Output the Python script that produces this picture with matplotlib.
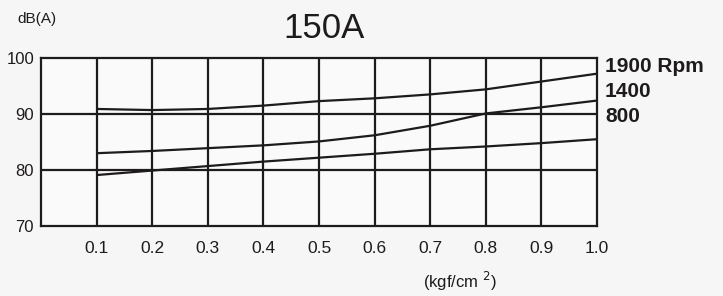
import matplotlib
matplotlib.use("Agg")
import matplotlib.pyplot as plt

pressure = [0.1, 0.2, 0.3, 0.4, 0.5, 0.6, 0.7, 0.8, 0.9, 1.0]
db_1900 = [90.9, 90.7, 90.9, 91.5, 92.3, 92.8, 93.5, 94.4, 95.8, 97.2]
db_1400 = [83.0, 83.4, 83.9, 84.4, 85.1, 86.2, 87.9, 90.1, 91.2, 92.4]
db_800 = [79.1, 79.9, 80.7, 81.5, 82.2, 82.9, 83.7, 84.2, 84.8, 85.5]
series_labels = ["1900 Rpm", "1400", "800"]
x_ticks = [0.1, 0.2, 0.3, 0.4, 0.5, 0.6, 0.7, 0.8, 0.9, 1.0]
y_ticks = [70, 80, 90, 100]
title = "150A"
y_unit = "dB(A)"
x_unit = "(kgf/cm $^{2}$)"

W, H = 723, 296
fig = plt.figure(figsize=(W / 100, H / 100), dpi=100)
fig.patch.set_facecolor("#f6f6f6")
ax = fig.add_axes([41 / W, 1 - 226 / H, (597 - 41) / W, (226 - 58) / H])
ax.set_facecolor("#fafafa")

ink = "#1e1b1c"
for y in (db_1900, db_1400, db_800):
    ax.plot(pressure, y, color=ink, lw=1.6, solid_capstyle="butt")

ax.set_xlim(0, 1.0)
ax.set_ylim(70, 100)
for xv in x_ticks[:-1]:
    ax.axvline(xv, color=ink, lw=1.6)
for yv in y_ticks[1:-1]:
    ax.axhline(yv, color=ink, lw=1.6)
for s in ax.spines.values():
    s.set_color(ink)
    s.set_linewidth(1.6)

ax.set_xticks(x_ticks)
ax.set_xticklabels([f"{v:.1f}" for v in x_ticks], fontsize=12.5,
                   fontfamily="Liberation Sans", color=ink)
ax.set_yticks(y_ticks)
ax.set_yticklabels([str(v) for v in y_ticks], fontsize=12,
                   fontfamily="Liberation Sans", color=ink)
ax.tick_params(axis="x", length=0, pad=11)
ax.tick_params(axis="y", length=0, pad=5)

fig.text(324 / W, 1 - 28 / H, title, ha="center", va="center", fontsize=25,
         fontfamily="Liberation Sans", color=ink)
fig.text(17 / W, 1 - 19 / H, y_unit, ha="left", va="center", fontsize=11,
         fontfamily="Liberation Sans", color=ink)
fig.text(423 / W, 1 - 281 / H, x_unit, ha="left", va="center", fontsize=12,
         fontfamily="Liberation Sans", color=ink)

label_y = [66, 92, 116]
for lab, ly in zip(series_labels, label_y):
    fig.text(605 / W, 1 - ly / H, lab, ha="left", va="center", fontsize=15,
             fontweight="bold", fontfamily="Liberation Sans", color=ink)

fig.savefig("out.png", dpi=100, facecolor=fig.get_facecolor())
